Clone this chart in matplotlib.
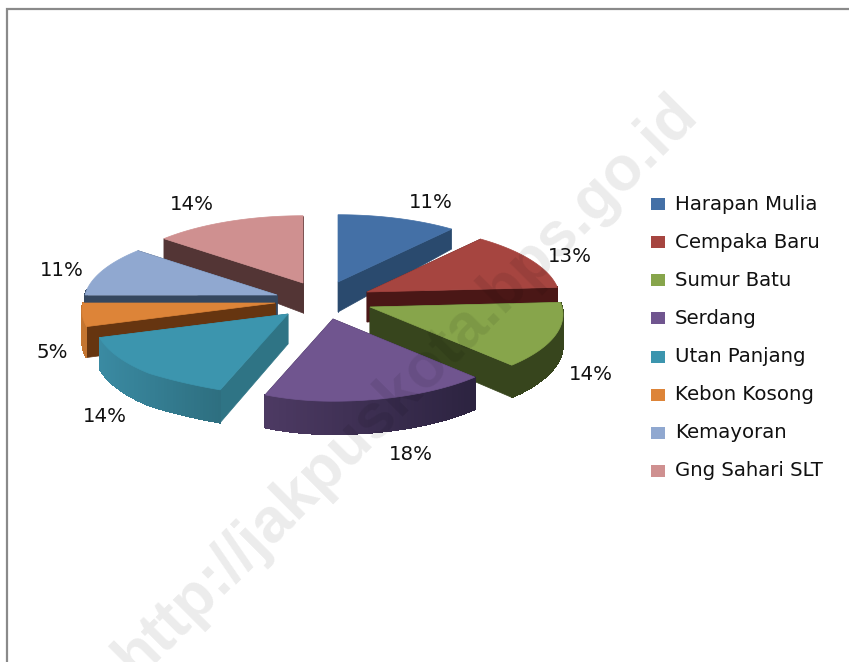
import numpy as np
import matplotlib
matplotlib.use("Agg")
import matplotlib.pyplot as plt
from matplotlib.patches import Polygon, Rectangle

categories = ["Harapan Mulia", "Cempaka Baru", "Sumur Batu", "Serdang",
              "Utan Panjang", "Kebon Kosong", "Kemayoran", "Gng Sahari SLT"]
percent = [11, 13, 14, 18, 14, 5, 11, 14]

top_colors = ["#4470a6", "#a64540", "#87a54b", "#70558f", "#3c95ae", "#dd8438", "#90a8d0", "#cf9090"]
radial_colors = ["#2a4a6e", "#4a1716", "#37451d", "#2f2440", "#2f7485", "#663510", "#35475f", "#533535"]
arc_left = ["#2a4a6e", "#4a1716", "#37451d", "#4d3a63", "#3a8aa2", "#c47530", "#35475f", "#533535"]
arc_right = ["#2a4a6e", "#4a1716", "#37451d", "#2c2340", "#2e6f80", "#c47530", "#35475f", "#533535"]
apex = [(338, 282), (367, 292), (370, 307), (333, 319), (288, 314), (275, 303), (277, 295), (303, 283)]
draw_order = [7, 0, 6, 1, 5, 2, 4, 3]

label_xy = [(431, 203), (570, 257), (591, 375), (411, 454), (105, 416), (52, 353), (62, 271), (192, 205)]
legend_y = [204, 242, 280, 318, 357, 395, 433, 471]

RX, RY, PERSP = 192, 74, 0.1
FONT = "DejaVu Sans"


def rim(a, ang):
    u, v = np.sin(ang), np.cos(ang)
    s = 1 / (1 + PERSP * v)
    f = 1.0
    if u < 0 and v < 0:
        f = 0.87 + 0.13 * min(1.0, max(0.0, (-u - 0.368) / 0.3))
    return a[0] + RX * u * s * f, a[1] - RY * v * s


def depth(v):
    return 30 - 13 * v if v > 0 else 30 - 3 * v


def rgb(h):
    return np.array(matplotlib.colors.to_rgb(h))


fig = plt.figure(figsize=(8.49, 6.62), dpi=100)
ax = fig.add_axes([0, 0, 1, 1])
ax.set_xlim(0, 849)
ax.set_ylim(662, 0)
ax.axis("off")

edges = np.radians(np.concatenate([[0], np.cumsum(percent)]) * 3.6)

z = 2
for i in draw_order:
    a = apex[i]
    th = np.linspace(edges[i], edges[i + 1], 60)
    pts = [rim(a, t) for t in th]
    d = [depth(np.cos(t)) for t in th]
    # cut faces
    for p, dd in ((pts[0], d[0]), (pts[-1], d[-1])):
        q = [a, p, (p[0], p[1] + dd), (a[0], a[1] + 30)]
        ax.add_patch(Polygon(q, closed=True, fc=radial_colors[i], ec=radial_colors[i], lw=0.5, zorder=z))
    z += 1
    # outer wall where it faces the viewer, shaded across its width
    idx = [k for k, t in enumerate(th) if np.cos(t) < 0.08]
    if len(idx) > 1:
        xs = [pts[k][0] for k in idx]
        span = max(xs) - min(xs)
        upper = [pts[k] for k in idx]
        lower = [(pts[k][0], pts[k][1] + d[k]) for k in idx]
        base = (rgb(arc_left[i]) + rgb(arc_right[i])) / 2
        ax.add_patch(Polygon(upper + lower[::-1], closed=True, fc=base, ec=base, lw=0.5, zorder=z))
        z += 1
        for n in range(len(idx) - 1):
            f = (xs[n] - min(xs)) / span
            col = rgb(arc_left[i]) * (1 - f) + rgb(arc_right[i]) * f
            q = [upper[n], upper[n + 1], lower[n + 1], lower[n]]
            ax.add_patch(Polygon(q, closed=True, fc=col, ec=col, lw=0.6, antialiased=False, zorder=z))
        z += 1
    # top
    ax.add_patch(Polygon([a] + pts, closed=True, fc=top_colors[i], ec=top_colors[i], lw=0.5, zorder=z))
    z += 1

for p, (x, y) in zip(percent, label_xy):
    ax.text(x, y, f"{p}%", ha="center", va="center", fontsize=14.2, family=FONT, color="#111111", zorder=500)

for name, col, y in zip(categories, top_colors, legend_y):
    ax.add_patch(Rectangle((651, y - 6.5), 14, 12, fc=col, ec="none", zorder=500))
    ax.text(675, y, name, ha="left", va="center", fontsize=14.2, family=FONT, color="#111111", zorder=500)

# chart frame
ax.plot([7.5, 7.5, 849], [662, 9, 9], color="#8a8a8a", lw=1.6, zorder=600, solid_joinstyle="miter")

# watermark
ax.text(406, 386, "http://jakpuskota.bps.go.id", rotation=45, rotation_mode="anchor",
        ha="center", va="center", fontsize=45, fontweight="bold", family="Liberation Sans",
        color="black", alpha=0.08, zorder=700)

fig.savefig("out.png", dpi=100, facecolor="white")
